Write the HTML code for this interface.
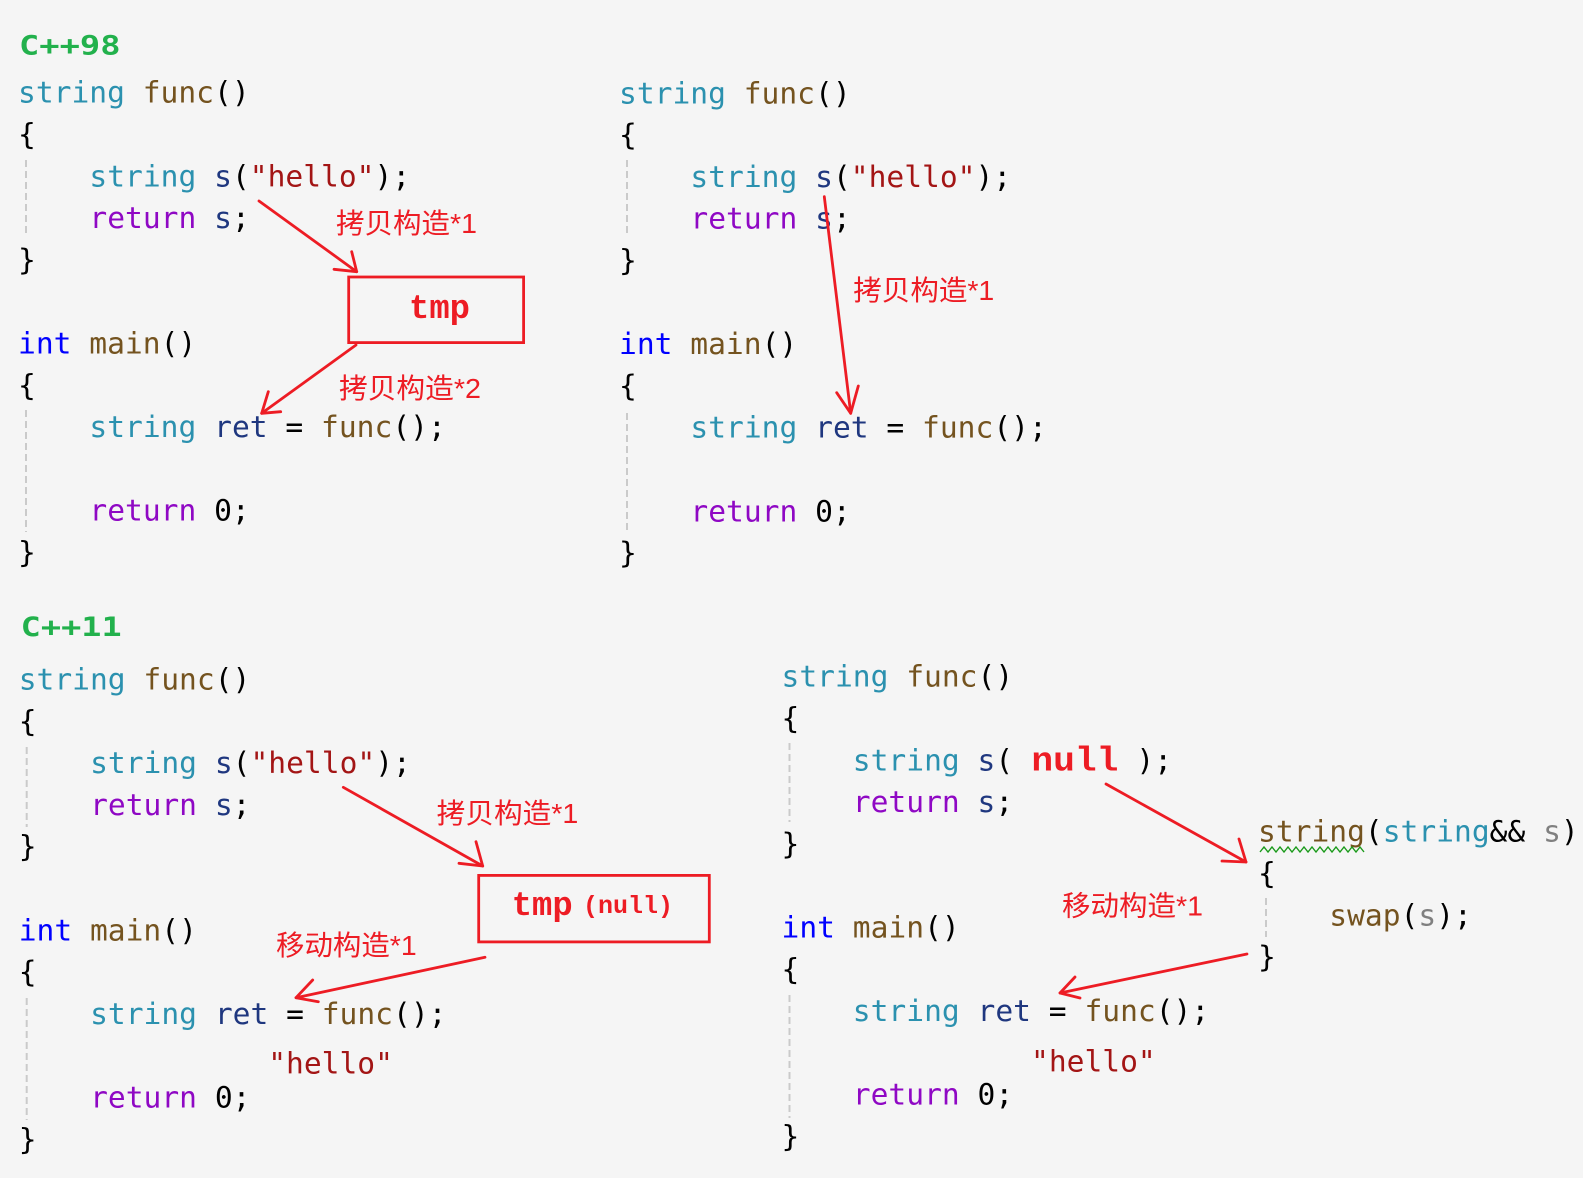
<!DOCTYPE html>
<html>
<head>
<meta charset="utf-8">
<style>
html,body{margin:0;padding:0;background:#f5f5f5;}
svg{display:block;}
.c{font-family:"DejaVu Sans Mono","Liberation Mono",monospace;font-size:29.6px;fill:#000;}
.t{fill:#2b91af}.f{fill:#74531f}.v{fill:#1f377f}.s{fill:#a31515}.r{fill:#8f08c4}.k{fill:#0000ff}.g{fill:#808080}
.h{font-family:"DejaVu Sans Mono","Liberation Mono",monospace;font-weight:bold;font-size:27px;fill:#22b14c;}
.lab{font-family:"Liberation Sans","Noto Sans CJK SC",sans-serif;font-size:28px;fill:#ed1c24;}
.tm{font-family:"Liberation Mono","DejaVu Sans Mono",monospace;font-weight:bold;fill:#ed1c24;}
.a{stroke:#ed1c24;stroke-width:2.8;fill:none;stroke-linecap:round;stroke-linejoin:round;}
.gd{stroke:#cacaca;stroke-width:2;stroke-dasharray:7 4;}
</style>
</head>
<body>
<svg width="1583" height="1178" viewBox="0 0 1583 1178" xmlns="http://www.w3.org/2000/svg">
<rect x="0" y="0" width="1583" height="1178" fill="#f5f5f5"/>

<!-- guides -->
<line class="gd" x1="26" y1="160" x2="26" y2="237"/>
<line class="gd" x1="26" y1="410" x2="26" y2="532"/>
<line class="gd" x1="627" y1="160" x2="627" y2="237"/>
<line class="gd" x1="627" y1="413" x2="627" y2="533"/>
<line class="gd" x1="26.7" y1="747" x2="26.7" y2="827"/>
<line class="gd" x1="26.7" y1="998" x2="26.7" y2="1120"/>
<line class="gd" x1="789.5" y1="743" x2="789.5" y2="822"/>
<line class="gd" x1="789.5" y1="995" x2="789.5" y2="1118"/>
<line class="gd" x1="1266" y1="898" x2="1266" y2="937"/>

<!-- C++98 header -->
<text class="h" x="19" y="54.5" textLength="101.5" lengthAdjust="spacingAndGlyphs">C++98</text>

<!-- Top-left code -->
<text class="c" x="18" y="102.7"><tspan class="t">string</tspan> <tspan class="f">func</tspan>()</text>
<text class="c" x="18" y="144.5">{</text>
<text class="c" x="89.4" y="186.3"><tspan class="t">string</tspan> <tspan class="v">s</tspan>(<tspan class="s">"hello"</tspan>);</text>
<text class="c" x="89.4" y="228.1"><tspan class="r">return</tspan> <tspan class="v">s</tspan>;</text>
<text class="c" x="18" y="269.9">}</text>
<text class="c" x="18" y="353.5"><tspan class="k">int</tspan> <tspan class="f">main</tspan>()</text>
<text class="c" x="18" y="395.3">{</text>
<text class="c" x="89.4" y="437.1"><tspan class="t">string</tspan> <tspan class="v">ret</tspan> = <tspan class="f">func</tspan>();</text>
<text class="c" x="89.4" y="520.7"><tspan class="r">return</tspan> 0;</text>
<text class="c" x="18" y="562.5">}</text>

<!-- Top-right code -->
<text class="c" x="619" y="103.3"><tspan class="t">string</tspan> <tspan class="f">func</tspan>()</text>
<text class="c" x="619" y="145.1">{</text>
<text class="c" x="690.4" y="186.9"><tspan class="t">string</tspan> <tspan class="v">s</tspan>(<tspan class="s">"hello"</tspan>);</text>
<text class="c" x="690.4" y="228.7"><tspan class="r">return</tspan> <tspan class="v">s</tspan>;</text>
<text class="c" x="619" y="270.5">}</text>
<text class="c" x="619" y="354.1"><tspan class="k">int</tspan> <tspan class="f">main</tspan>()</text>
<text class="c" x="619" y="395.9">{</text>
<text class="c" x="690.4" y="437.7"><tspan class="t">string</tspan> <tspan class="v">ret</tspan> = <tspan class="f">func</tspan>();</text>
<text class="c" x="690.4" y="521.3"><tspan class="r">return</tspan> 0;</text>
<text class="c" x="619" y="563.1">}</text>

<!-- C++11 header -->
<text class="h" x="20.7" y="636" textLength="101" lengthAdjust="spacingAndGlyphs">C++11</text>

<!-- Bottom-left code -->
<text class="c" x="18.7" y="689.5"><tspan class="t">string</tspan> <tspan class="f">func</tspan>()</text>
<text class="c" x="18.7" y="731.3">{</text>
<text class="c" x="90.1" y="773.1"><tspan class="t">string</tspan> <tspan class="v">s</tspan>(<tspan class="s">"hello"</tspan>);</text>
<text class="c" x="90.1" y="814.9"><tspan class="r">return</tspan> <tspan class="v">s</tspan>;</text>
<text class="c" x="18.7" y="856.7">}</text>
<text class="c" x="18.7" y="940.3"><tspan class="k">int</tspan> <tspan class="f">main</tspan>()</text>
<text class="c" x="18.7" y="982.1">{</text>
<text class="c" x="90.1" y="1023.9"><tspan class="t">string</tspan> <tspan class="v">ret</tspan> = <tspan class="f">func</tspan>();</text>
<text class="c s" x="268.2" y="1073.3">"hello"</text>
<text class="c" x="90.1" y="1107.5"><tspan class="r">return</tspan> 0;</text>
<text class="c" x="18.7" y="1149.3">}</text>

<!-- Bottom-right code -->
<text class="c" x="781.5" y="686.7"><tspan class="t">string</tspan> <tspan class="f">func</tspan>()</text>
<text class="c" x="781.5" y="728.5">{</text>
<text class="c" x="852.8" y="770.3"><tspan class="t">string</tspan> <tspan class="v">s</tspan>(</text>
<text class="tm" x="1031.4" y="770.3" font-size="34" textLength="87" lengthAdjust="spacingAndGlyphs">null</text>
<text class="c" x="1136.4" y="770.3">);</text>
<text class="c" x="852.8" y="812.1"><tspan class="r">return</tspan> <tspan class="v">s</tspan>;</text>
<text class="c" x="781.5" y="853.9">}</text>
<text class="c" x="781.5" y="937.5"><tspan class="k">int</tspan> <tspan class="f">main</tspan>()</text>
<text class="c" x="781.5" y="979.3">{</text>
<text class="c" x="852.8" y="1021.1"><tspan class="t">string</tspan> <tspan class="v">ret</tspan> = <tspan class="f">func</tspan>();</text>
<text class="c s" x="1031" y="1071.7">"hello"</text>
<text class="c" x="852.8" y="1104.7"><tspan class="r">return</tspan> 0;</text>
<text class="c" x="781.5" y="1146.5">}</text>

<!-- Move constructor -->
<text class="c" x="1258" y="841.7"><tspan class="f">string</tspan>(<tspan class="t">string</tspan>&amp;&amp; <tspan class="g">s</tspan>)</text>
<polyline fill="none" stroke="#1a9a1a" stroke-width="1.4" points="1260,852 1264,847 1268,852 1272,847 1276,852 1280,847 1284,852 1288,847 1292,852 1296,847 1300,852 1304,847 1308,852 1312,847 1316,852 1320,847 1324,852 1328,847 1332,852 1336,847 1340,852 1344,847 1348,852 1352,847 1356,852 1360,847 1364,852"/>
<text class="c" x="1258" y="883.5">{</text>
<text class="c" x="1329.3" y="925.3"><tspan class="f">swap</tspan>(<tspan class="g">s</tspan>);</text>
<text class="c" x="1258" y="967.1">}</text>

<!-- Boxes -->
<rect x="348.7" y="277" width="174.9" height="65.6" fill="none" stroke="#ed1c24" stroke-width="2.8"/>
<text class="tm" x="409" y="318" font-size="34" textLength="61" lengthAdjust="spacingAndGlyphs">tmp</text>

<rect x="478.7" y="875.4" width="230.6" height="66.5" fill="none" stroke="#ed1c24" stroke-width="2.8"/>
<text class="tm" x="511.7" y="915" font-size="34" textLength="61" lengthAdjust="spacingAndGlyphs">tmp</text>
<text class="tm" x="583" y="913" font-size="25" textLength="90" lengthAdjust="spacingAndGlyphs">(null)</text>

<!-- Arrows -->
<line class="a" x1="259" y1="201" x2="356.7" y2="271.7"/>
<polyline class="a" points="351.7,251.7 356.7,271.7 334,269.3"/>
<line class="a" x1="356" y1="345" x2="261.7" y2="413.3"/>
<polyline class="a" points="268.3,391.7 261.7,413.3 280.7,411.7"/>
<line class="a" x1="824.3" y1="196.7" x2="850.7" y2="413.3"/>
<polyline class="a" points="836.7,392.7 850.7,413.3 858.3,386"/>
<line class="a" x1="343.3" y1="787.3" x2="482.7" y2="866"/>
<polyline class="a" points="476,841.7 482.7,866 459,863.3"/>
<line class="a" x1="485" y1="957.3" x2="296" y2="997.7"/>
<polyline class="a" points="312.7,980 296,997.7 318.3,1001.7"/>
<line class="a" x1="1106" y1="784" x2="1246" y2="862"/>
<polyline class="a" points="1239,839 1246,862 1222,861"/>
<line class="a" x1="1247" y1="954" x2="1060" y2="993"/>
<polyline class="a" points="1075,977 1060,993 1080,998"/>

<!-- Labels -->
<text class="lab" x="336" y="233" textLength="141" lengthAdjust="spacingAndGlyphs">拷贝构造*1</text>
<text class="lab" x="339" y="398" textLength="142" lengthAdjust="spacingAndGlyphs">拷贝构造*2</text>
<text class="lab" x="853.3" y="300" textLength="141" lengthAdjust="spacingAndGlyphs">拷贝构造*1</text>
<text class="lab" x="436.7" y="823" textLength="141.6" lengthAdjust="spacingAndGlyphs">拷贝构造*1</text>
<text class="lab" x="276" y="955" textLength="140.7" lengthAdjust="spacingAndGlyphs">移动构造*1</text>
<text class="lab" x="1062" y="915.5" textLength="141" lengthAdjust="spacingAndGlyphs">移动构造*1</text>
</svg>
</body>
</html>
